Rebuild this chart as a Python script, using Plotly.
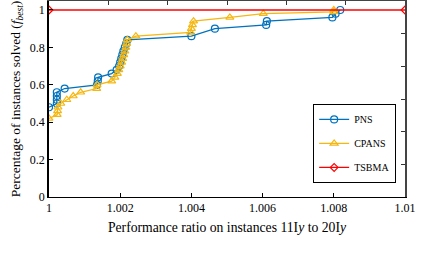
import plotly.graph_objects as go

pns_x = [1.0, 1.00022, 1.00022, 1.00022, 1.00022, 1.00044, 1.00135, 1.00137, 1.00138,
         1.00176, 1.0019, 1.00197, 1.002, 1.00203, 1.00206, 1.00209, 1.00213, 1.00217, 1.0022,
         1.004, 1.00466, 1.0061, 1.00612, 1.00796, 1.00805, 1.00818]
pns_y = [0.48, 0.50, 0.52, 0.54, 0.56, 0.58, 0.60, 0.62, 0.64,
         0.66, 0.68, 0.70, 0.72, 0.74, 0.76, 0.78, 0.80, 0.82, 0.84,
         0.86, 0.90, 0.92, 0.94, 0.96, 0.98, 1.0]

cpans_x = [1.0, 1.00023, 1.00024, 1.00025, 1.00033, 1.0005, 1.00068, 1.00089, 1.00134, 1.00135,
           1.00176, 1.00185, 1.00192, 1.00196, 1.002, 1.00204, 1.00207, 1.0021, 1.00213, 1.00216,
           1.00218, 1.0022, 1.00244, 1.00398, 1.004, 1.00403, 1.00406, 1.00508, 1.00602, 1.008, 1.008]
cpans_y = [0.42, 0.44, 0.46, 0.48, 0.50, 0.52, 0.54, 0.56, 0.58, 0.60,
           0.62, 0.64, 0.66, 0.68, 0.70, 0.72, 0.74, 0.76, 0.78, 0.80,
           0.82, 0.84, 0.86, 0.88, 0.90, 0.92, 0.94, 0.96, 0.98, 0.99, 1.0]

tsbma_x = [1.0, 1.01]
tsbma_y = [1.0, 1.0]

x_ticks = [1, 1.002, 1.004, 1.006, 1.008, 1.01]
x_tick_labels = ["1", "1.002", "1.004", "1.006", "1.008", "1.01"]
y_ticks = [0, 0.2, 0.4, 0.6, 0.8, 1]
y_tick_labels = ["0", "0.2", "0.4", "0.6", "0.8", "1"]

blue = "#0072BD"
yellow = "#F5B712"
red = "#FF0000"
font = "Liberation Serif, Times New Roman, serif"

fig = go.Figure()
fig.add_trace(go.Scatter(x=pns_x, y=pns_y, name="PNS", mode="lines+markers",
                         line=dict(color=blue, width=1.3),
                         marker=dict(symbol="circle-open", size=7, color=blue, line=dict(width=1.2)),
                         legendgroup="a"))
fig.add_trace(go.Scatter(x=cpans_x, y=cpans_y, name="CPANS", mode="lines+markers",
                         line=dict(color=yellow, width=1.3),
                         marker=dict(symbol="triangle-up-open", size=7, color=yellow, line=dict(width=1.2)),
                         legendgroup="b"))
fig.add_trace(go.Scatter(x=tsbma_x, y=tsbma_y, name="TSBMA", mode="lines+markers",
                         line=dict(color=red, width=1.3),
                         marker=dict(symbol="diamond-open", size=6, color=red, line=dict(width=1.2)),
                         legendgroup="c"))
# invisible trace that activates the overlay (top/right) axes
fig.add_trace(go.Scatter(x=[0], y=[0], xaxis="x2", yaxis="y2", mode="markers",
                         marker=dict(opacity=0), showlegend=False, hoverinfo="skip"))

fig.update_layout(
    width=429, height=257,
    margin=dict(l=49, r=24, t=1, b=60, autoexpand=False),
    plot_bgcolor="white", paper_bgcolor="white",
    font=dict(family=font, size=12, color="black"),
    showlegend=True,
    legend=dict(x=0.742, y=0.475, xanchor="left", yanchor="top",
                bordercolor="black", borderwidth=1, bgcolor="white",
                font=dict(family=font, size=10), tracegroupgap=5,
                traceorder="grouped", itemwidth=30,
                entrywidth=40, entrywidthmode="pixels"),
    xaxis=dict(range=[1, 1.01], tickvals=x_ticks, ticktext=x_tick_labels,
               ticks="inside", ticklen=4, tickcolor="black", showgrid=False, zeroline=False,
               showline=True, linecolor="black", linewidth=1,
               tickfont=dict(family=font, size=12),
               title=dict(text="Performance ratio on instances 11I<i>y</i> to 20I<i>y</i>",
                          font=dict(family=font, size=13.7), standoff=8)),
    yaxis=dict(range=[0, 1.048], tickvals=y_ticks, ticktext=y_tick_labels,
               ticks="inside", ticklen=4, tickcolor="black", showgrid=False, zeroline=False,
               showline=True, linecolor="black", linewidth=1.5,
               tickfont=dict(family=font, size=12),
               title=dict(text="Percentage of instances solved (<i>f</i><sub><i>best</i></sub>)",
                          font=dict(family=font, size=13.5), standoff=6)),
    xaxis2=dict(overlaying="x", side="top", range=[0, 6], dtick=1, ticks="inside", ticklen=4,
                tickcolor="#333", showticklabels=False, showgrid=False, zeroline=False,
                showline=True, linecolor="#444", linewidth=1),
    yaxis2=dict(overlaying="y", side="right", range=[0, 6], dtick=1, ticks="inside", ticklen=4,
                tickcolor="#333", showticklabels=False, showgrid=False, zeroline=False,
                showline=True, linecolor="#444", linewidth=1.5),
)

fig.write_html("out.html", config={"displayModeBar": False},
               post_script="document.body.style.margin='0';document.body.style.overflow='hidden';")
